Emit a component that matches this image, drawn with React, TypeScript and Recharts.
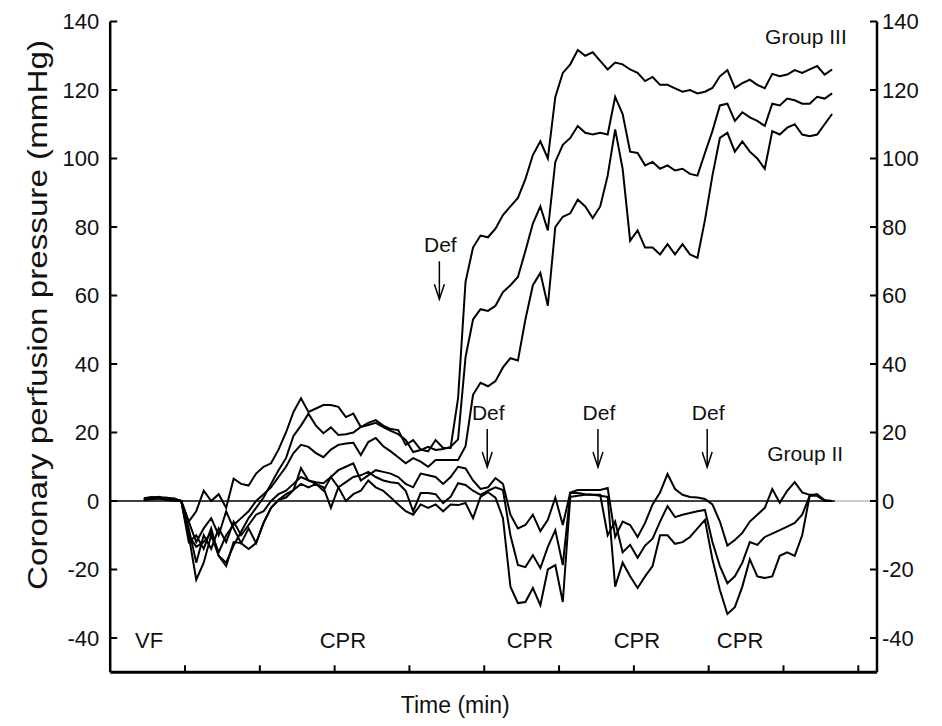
import { LineChart, Line, XAxis, YAxis, ReferenceLine, ReferenceDot } from 'recharts';

const FONT = '"Liberation Sans", Arial, Helvetica, sans-serif';
const INK = '#111';

// sample times (min)
const time = [
  0.45, 0.55, 0.65, 0.75, 0.85, 0.95, 1.05, 1.15, 1.25, 1.35,
  1.45, 1.55, 1.65, 1.75, 1.85, 1.95, 2.05, 2.15, 2.25, 2.35,
  2.45, 2.55, 2.65, 2.75, 2.85, 2.95, 3.05, 3.15, 3.25, 3.35,
  3.45, 3.55, 3.65, 3.75, 3.85, 3.95, 4.05, 4.15, 4.25, 4.35,
  4.45, 4.55, 4.65, 4.75, 4.85, 4.95, 5.05, 5.15, 5.25, 5.35,
  5.45, 5.55, 5.65, 5.75, 5.85, 5.95, 6.05, 6.15, 6.25, 6.35,
  6.45, 6.55, 6.65, 6.75, 6.85, 6.95, 7.05, 7.15, 7.25, 7.35,
  7.45, 7.55, 7.65, 7.75, 7.85, 7.95, 8.05, 8.15, 8.25, 8.35,
  8.45, 8.55, 8.65, 8.75, 8.85, 8.95, 9.05, 9.15, 9.25, 9.35,
  9.45, 9.55, 9.65,
];

// Group III: mean + SD, mean, mean - SD
const g3Upper = [
  0.8, 1.2, 1.0, 1.0, 0.5, 0, -6, -3, 3, 0,
  2, -2, 6.5, 5, 4.5, 8, 10, 11, 15, 20,
  26, 30, 26, 27, 28, 28, 27.5, 24.5, 25.5, 21.6,
  22.8, 23.6, 22, 21, 20.7, 16.4, 17.8, 15, 14.5, 17.8,
  15.5, 15.5, 30, 64, 74, 77.5, 77, 79.5, 83.5, 86,
  88.5, 94, 101, 105, 100, 118, 125, 127.5, 131.7, 130,
  131, 128.5, 126, 128, 127.5, 126, 125, 122.6, 123.8, 121.5,
  121.5, 120.5, 119.5, 120, 119, 119.5, 120.6, 124, 125.8, 120.6,
  122, 123, 121.5, 120.5, 124.7, 124, 124.5, 125.8, 125, 126,
  127, 124.5, 126,
];
const g3Mean = [
  0.5, 0.8, 1.2, 0.6, 0.8, 0, -12, -10, -14, -8,
  -16, -18, -13, -9, -5, -2, 1, 5, 9, 12.5,
  19, 22, 25.5, 22, 19.8, 21.5, 19.3, 19.5, 20, 21.6,
  22.2, 22.8, 21.6, 20.5, 19.5, 17.8, 14.3, 14.9, 15.8, 14.9,
  15.2, 15.8, 18, 42, 53, 56, 55.5, 57, 61, 63,
  65.4, 73, 81, 86, 79, 99, 104, 106, 109.5, 107.5,
  107, 107.5, 107, 118, 113, 102, 101.6, 98, 99, 97,
  98, 96.5, 97, 95.5, 95, 101.6, 108, 115.5, 116, 111,
  113.5, 112, 111, 109.5, 116, 115.5, 117.5, 117, 116, 116,
  118, 117.5, 119,
];
const g3Lower = [
  0.3, 0.6, 0.8, 0.4, 0.2, 0, -10, -13.4, -12, -9.3,
  -15, -10, -7, -5, -3, 0, 2, 4, 7, 10,
  14, 16.4, 15.8, 14, 12.8, 15, 16.4, 16.8, 17, 13.4,
  17.2, 18.4, 16, 14.5, 12.8, 11, 12.5, 11.5, 10, 12,
  12, 12, 12, 16, 31, 34.5, 33.5, 35, 39, 41.7,
  41, 53, 63, 66.6, 57, 80, 83, 84, 88, 86,
  82.6, 86, 95, 108.5, 97, 76, 79, 74, 74, 72,
  75, 72, 75, 72, 71, 82, 95, 106, 107.5, 102,
  105, 102, 100, 97, 108, 107, 109, 110, 107, 106.5,
  107, 110, 113,
];

// Group II: mean + SD, mean, mean - SD
const g2Upper = [
  0.5, 0.9, 1.0, 0.7, 0.4, 0, -6, -12, -8, -5,
  -10, -3, -8, -12.3, -8, -12.3, -6.4, -2, 0.3, 2,
  3.2, 9.6, 6, 5.5, 5.2, 7, 9, 10, 11, 6,
  7.5, 9, 8.5, 8, 7, 5, 4, 8, 7.5, 7,
  5, 7, 10, 9.5, 6, 3.5, 4, 6.7, 5, -4,
  -8, -7, -4, -8.8, -5.5, 1, -7, 2.5, 3.2, 3.2,
  3.2, 3.2, 3.8, -10.5, -6, -7, -10.5, -6.4, -1, 2.5,
  7.9, 3.5, 1.8, 1.2, 1, 0.6, -1, -6, -13, -11.4,
  -9.3, -6, -4, -2, 3.5, -0.5, 3, 5.5, 2.5, 1.8,
  1.8, 0.3, 0,
];
const g2Mean = [
  0.6, 1.0, 0.8, 0.9, 0.6, 0, -8, -18, -10, -14,
  -8, -12, -6, -10, -7, -4, -3, 0, 2, 3,
  5, 7, 6, 5, 4, -2, 4, 5.5, 7, 7.5,
  8.5, 7, 6, 5.5, 5.2, 3, -3, 2.3, 2.3, 2,
  -0.6, 1.2, 5.2, 4.7, 3, 1.8, 3, 4, 3.2, -10,
  -18.7, -19.3, -15.8, -19.6, -13.4, -8.5, -18.7, 2.3, 2.3, 2,
  1.8, 1.8, -10, -6, -15, -12.8, -16.6, -13, -11, -6,
  -1.5, -4.7, -4, -3.5, -3, -2.6, -12, -19, -24, -22,
  -18, -12, -12.8, -10.5, -9.5, -8.5, -7.5, -6.4, -4, 1.5,
  1.5, 0, 0,
];
const g2Lower = [
  0.2, 0.5, 0.7, 0.3, 0.1, 0, -10, -23, -18, -10,
  -16, -19, -12, -12.3, -14, -12.3, -6.4, -2, 0.3, 1,
  3.2, 5, 4, 5, 3, 7, 4, 0, 2, 3,
  6, 4, 3, 1, -1, -3, -4, -1, -2, -1,
  -3, -1, -1.2, -0.6, -5, 1.2, 2.6, 1, -5, -25,
  -29.8, -29.5, -25.4, -30.4, -20, -18.7, -29.5, 1.2, 1.5, 1.8,
  1.8, 1.5, 1.2, -25, -18, -22, -25.4, -22, -19, -10,
  -10, -12.5, -12, -10.5, -8, -5.5, -17, -26, -33, -31,
  -25, -17, -22, -22.5, -22, -16, -15, -16, -10, 1.5,
  2, 0, 0,
];

const xTicks = [1, 2, 3, 4, 5, 6, 7, 8, 9, 10];
const yTicks = [-40, -20, 0, 20, 40, 60, 80, 100, 120, 140];

// annotations
const defTimes = [4.4, 5.04, 6.52, 7.98];
const defLevels = [70, 21, 21, 21];
const phaseLabels = ['VF', 'CPR', 'CPR', 'CPR', 'CPR'];
const phaseTimes = [0.52, 3.11, 5.61, 7.04, 8.42];
const phaseLevel = -40.5;
const groupLabels = ['Group III', 'Group II'];
const groupTimes = [9.3, 9.29];
const groupLevels = [135.5, 14];

const rows = time.map((t, i) => ({
  t,
  g3u: g3Upper[i],
  g3m: g3Mean[i],
  g3l: g3Lower[i],
  g2u: g2Upper[i],
  g2m: g2Mean[i],
  g2l: g2Lower[i],
}));

const seriesKeys = ['g3u', 'g3m', 'g3l', 'g2u', 'g2m', 'g2l'];

function LeftTick({ x, y, payload }: any) {
  return (
    <g>
      <line x1={x} y1={y} x2={x + 7} y2={y} stroke="#000" strokeWidth={2} />
      <text x={x - 11} y={y} dy="0.36em" textAnchor="end" fontSize={22} fontFamily={FONT} fill={INK}>
        {payload.value}
      </text>
    </g>
  );
}

function RightTick({ x, y, payload }: any) {
  return (
    <g>
      <line x1={x} y1={y} x2={x - 7} y2={y} stroke="#000" strokeWidth={2} />
      <text x={x + 5} y={y} dy="0.36em" textAnchor="start" fontSize={22} fontFamily={FONT} fill={INK}>
        {payload.value}
      </text>
    </g>
  );
}

function BottomTick({ x, y }: any) {
  return <line x1={x} y1={y} x2={x} y2={y - 7} stroke="#000" strokeWidth={2} />;
}

function TextMark(label: string, size: number) {
  return (p: any) => (
    <text x={p.cx} y={p.cy} dy="0.36em" textAnchor="middle" fontSize={size} fontFamily={FONT} fill={INK}>
      {label}
    </text>
  );
}

function DefArrow(p: any) {
  const { cx, cy } = p;
  return (
    <g>
      <text x={cx + 1} y={cy - 17} dy="0.36em" textAnchor="middle" fontSize={21} fontFamily={FONT} fill={INK}>
        Def
      </text>
      <line x1={cx} y1={cy} x2={cx} y2={cy + 38} stroke="#000" strokeWidth={1.5} />
      <polyline
        points={`${cx - 5},${cy + 23} ${cx},${cy + 38} ${cx + 5},${cy + 23}`}
        fill="none"
        stroke="#000"
        strokeWidth={1.5}
      />
    </g>
  );
}

export default function App() {
  return (
    <div style={{ width: 926, height: 716, background: '#fff' }}>
      <LineChart
        width={926}
        height={716}
        data={rows}
        margin={{ top: 13.5, right: 7, bottom: 11.75, left: 32.2 }}
      >
        <XAxis
          type="number"
          dataKey="t"
          domain={[0, 10.25]}
          ticks={xTicks}
          allowDataOverflow
          height={40}
          tickLine={false}
          tickSize={0}
          tickMargin={0}
          tick={(p: any) => <BottomTick {...p} />}
          axisLine={{ stroke: '#000', strokeWidth: 3 }}
          label={(props: any) => {
            const vb = props.viewBox;
            return (
              <text
                x={vb.x + vb.width * 0.45}
                y={vb.y + 32}
                dy="0.36em"
                textAnchor="middle"
                fontSize={23}
                fontFamily={FONT}
                fill={INK}
              >
                Time (min)
              </text>
            );
          }}
        />
        <YAxis
          yAxisId="left"
          domain={[-50, 140]}
          ticks={yTicks}
          allowDataOverflow
          width={70}
          tickLine={false}
          tickSize={0}
          tickMargin={0}
          tick={(p: any) => <LeftTick {...p} />}
          axisLine={{ stroke: '#000', strokeWidth: 2.5 }}
          label={(props: any) => {
            const vb = props.viewBox;
            const cx = vb.x - 3;
            const cy = vb.y + vb.height * 0.451;
            return (
              <text
                x={cx}
                y={cy}
                dy="0.36em"
                textAnchor="middle"
                fontSize={28}
                fontFamily={FONT}
                fill={INK}
                textLength={550}
                lengthAdjust="spacingAndGlyphs"
                transform={`rotate(-90 ${cx} ${cy})`}
              >
                Coronary perfusion pressure (mmHg)
              </text>
            );
          }}
        />
        <YAxis
          yAxisId="right"
          orientation="right"
          domain={[-50, 140]}
          ticks={yTicks}
          allowDataOverflow
          width={50}
          tickLine={false}
          tickSize={0}
          tickMargin={0}
          tick={(p: any) => <RightTick {...p} />}
          axisLine={{ stroke: '#000', strokeWidth: 2.5 }}
        />

        <ReferenceLine
          yAxisId="left"
          segment={[{ x: 0, y: 0 }, { x: 9.69, y: 0 }]}
          stroke="#000"
          strokeWidth={1.6}
        />
        <ReferenceLine
          yAxisId="left"
          segment={[{ x: 9.69, y: 0 }, { x: 10.25, y: 0 }]}
          stroke="#bdbdbd"
          strokeWidth={1.6}
        />

        {seriesKeys.map((k) => (
          <Line
            key={k}
            yAxisId="left"
            type="linear"
            dataKey={k}
            stroke="#000"
            strokeWidth={2}
            dot={false}
            isAnimationActive={false}
          />
        ))}

        {defTimes.map((t, i) => (
          <ReferenceDot key={'def' + i} yAxisId="left" x={t} y={defLevels[i]} r={0} shape={DefArrow} />
        ))}
        {phaseTimes.map((t, i) => (
          <ReferenceDot
            key={'ph' + i}
            yAxisId="left"
            x={t}
            y={phaseLevel}
            r={0}
            shape={TextMark(phaseLabels[i], 22)}
          />
        ))}
        {groupTimes.map((t, i) => (
          <ReferenceDot
            key={'gr' + i}
            yAxisId="left"
            x={t}
            y={groupLevels[i]}
            r={0}
            shape={TextMark(groupLabels[i], 21)}
          />
        ))}
      </LineChart>
    </div>
  );
}
